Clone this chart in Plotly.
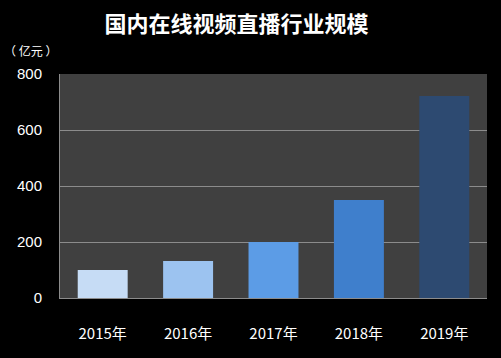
import plotly.graph_objects as go

years = ["2015年", "2016年", "2017年", "2018年", "2019年"]
values = [100, 132, 200, 350, 721]
bar_colors = ["#c6dcf5", "#9cc3f0", "#5c9ce6", "#3f7fcc", "#2d4a71"]
y_ticks = [0, 200, 400, 600, 800]

fig = go.Figure(go.Bar(
    x=years, y=values,
    marker=dict(color=bar_colors, line=dict(width=0)),
    width=0.585,
))

font_cjk = "Noto Sans CJK SC, Microsoft YaHei, sans-serif"
fig.update_layout(
    width=501, height=358,
    paper_bgcolor="#000000", plot_bgcolor="#404040",
    margin=dict(l=60, r=14, t=74, b=60, autoexpand=False),
    showlegend=False,
    title=dict(text="<b>国内在线视频直播行业规模</b>", x=0.472, xanchor="center",
               y=0.933, yanchor="middle",
               font=dict(family=font_cjk, size=22, color="#ffffff")),
    font=dict(family=font_cjk, color="#ffffff"),
)
fig.update_xaxes(
    showgrid=False, showline=True, linecolor="#8c8c8c", linewidth=1,
    ticks="", ticklabelstandoff=22,
    tickfont=dict(size=15, color="#ffffff", family=font_cjk),
)
fig.update_yaxes(
    range=[0, 800], tickvals=y_ticks,
    showgrid=True, gridcolor="#8c8c8c", gridwidth=1,
    showline=True, linecolor="#8c8c8c", linewidth=1,
    zeroline=False, ticks="", ticklabelstandoff=14,
    tickfont=dict(size=15, color="#ffffff", family="Liberation Sans, Arial, sans-serif"),
)
fig.add_annotation(text="（ 亿元 ）", xref="paper", yref="paper", x=-0.135, y=1.105,
                   xanchor="left", yanchor="middle", showarrow=False,
                   font=dict(family=font_cjk, size=12, color="#ffffff"))

fig.write_html("out.html", config={"displayModeBar": False},
               post_script="document.body.style.margin='0';")
